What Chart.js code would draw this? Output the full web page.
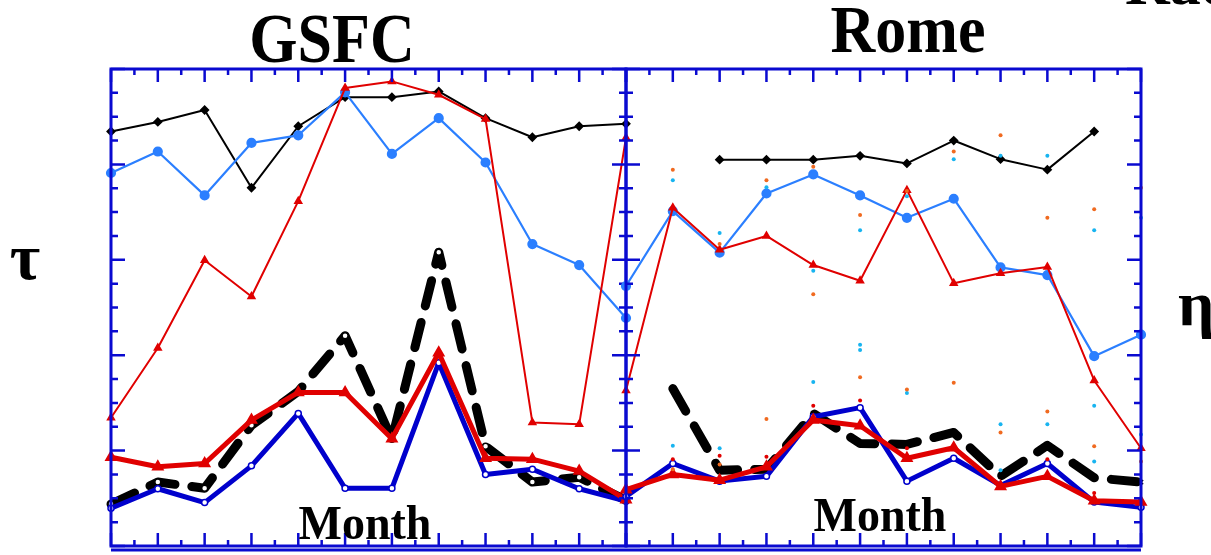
<!DOCTYPE html>
<html>
<head>
<meta charset="utf-8">
<script src="https://cdn.jsdelivr.net/npm/chart.js@4.4.1/dist/chart.umd.min.js"></script>
<style>
  html, body { margin: 0; padding: 0; background: #ffffff; overflow: hidden; }
  #wrap { position: relative; width: 1211px; height: 555px; }
  canvas { position: absolute; left: 0; top: 0; }
</style>
</head>
<body>
<div id="wrap">
  <canvas id="gsfc" width="1211" height="555"></canvas>
  <canvas id="rome" width="1211" height="555"></canvas>
</div>
<script>
// Month index on the x axis
const months = [1, 2, 3, 4, 5, 6, 7, 8, 9, 10, 11, 12];

// ---- GSFC panel (normalised tau) ----
const gsfcBlackThin = [0.869, 0.889, 0.914, 0.751, 0.880, 0.941, 0.941, 0.953, 0.897, 0.857, 0.880, 0.885];
const gsfcBlueThin  = [0.782, 0.827, 0.735, 0.845, 0.861, 0.951, 0.822, 0.897, 0.804, 0.633, 0.589, 0.478];
const gsfcRedThin   = [0.269, 0.415, 0.599, 0.523, 0.723, 0.960, 0.974, 0.946, 0.895, 0.259, 0.255, 0.856];
const gsfcDashed    = [0.088, 0.134, 0.121, 0.253, 0.324, 0.441, 0.224, 0.616, 0.209, 0.134, 0.144, 0.096];
const gsfcBlueThick = [0.079, 0.120, 0.091, 0.168, 0.278, 0.121, 0.121, 0.384, 0.150, 0.161, 0.120, 0.094];
const gsfcRedThick  = [0.186, 0.166, 0.173, 0.264, 0.322, 0.322, 0.225, 0.405, 0.184, 0.182, 0.157, 0.097];

// ---- Rome panel ----
const romeBlackThin = [null, null, 0.810, 0.810, 0.810, 0.818, 0.802, 0.850, 0.811, 0.789, 0.869, null];
const romeBlueThin  = [0.545, 0.702, 0.615, 0.739, 0.779, 0.735, 0.688, 0.728, 0.584, 0.568, 0.398, 0.443];
const romeRedThin   = [0.326, 0.709, 0.621, 0.650, 0.589, 0.556, 0.746, 0.551, 0.572, 0.585, 0.347, 0.205];
const romeDashed    = [null, 0.330, 0.159, 0.161, 0.278, 0.215, 0.213, 0.238, 0.146, 0.211, 0.143, 0.134];
const romeBlueThick = [0.104, 0.173, 0.136, 0.146, 0.271, 0.290, 0.136, 0.184, 0.127, 0.173, 0.092, 0.081];
const romeRedThick  = [0.118, 0.150, 0.138, 0.166, 0.264, 0.252, 0.184, 0.206, 0.125, 0.146, 0.095, 0.092];

// Individual station samples scattered around the Rome means: [month, value]
const romeOrangeDots = [
  [2, 0.789], [3, 0.633], [4, 0.767], [5, 0.795], [6, 0.694], [7, 0.744], [8, 0.827], [9, 0.861], [10, 0.688], [11, 0.706], [12, 0.751],
  [2, 0.161], [3, 0.171], [4, 0.266], [5, 0.528], [6, 0.354], [7, 0.328], [8, 0.342], [9, 0.238], [10, 0.282], [11, 0.209], [12, 0.177]
];
const romeCyanDots = [
  [2, 0.767], [3, 0.656], [4, 0.752], [5, 0.577], [6, 0.662], [7, 0.733], [8, 0.811], [9, 0.818], [10, 0.818], [11, 0.662], [12, 0.688],
  [2, 0.210], [3, 0.205], [5, 0.344], [6, 0.422], [6, 0.411], [7, 0.321], [9, 0.255], [9, 0.159], [10, 0.255], [11, 0.294], [11, 0.177], [12, 0.234]
];
const romeRedDots = [[2, 0.182], [3, 0.189], [4, 0.187], [5, 0.294], [6, 0.305], [7, 0.205], [10, 0.182], [11, 0.111]];

// y tick spacing
const yMinorStep = 0.05;
const yMajorEvery = 4;

const FRAME = '#0a0ad0';
const RED = '#e00000';
const LIGHTBLUE = '#2b7fff';
const DARKBLUE = '#0000cc';
const ORANGE = '#f06a20';
const CYAN = '#18b4f0';

function series(data, cfg) {
  return Object.assign({
    type: 'line',
    data: data,
    clip: false,
    tension: 0,
    spanGaps: false,
    borderCapStyle: 'round',
    borderJoinStyle: 'round'
  }, cfg);
}

function dots(pairs, color) {
  return {
    type: 'scatter',
    data: pairs.map(p => ({ x: p[0], y: p[1] })),
    showLine: false,
    pointRadius: 2,
    pointBorderWidth: 0,
    pointBackgroundColor: color,
    clip: false
  };
}

function panelDatasets(redThick, blueThick, dashed, redThin, blueThin, blackThin, dashMarker) {
  return [
    series(redThick, { borderColor: RED, borderWidth: 5, pointRadius: 2.5, pointStyle: 'triangle', pointBackgroundColor: RED, pointBorderColor: RED }),
    series(blueThick, { borderColor: DARKBLUE, borderWidth: 5, pointRadius: 3, pointStyle: 'circle', pointBackgroundColor: '#ffffff', pointBorderColor: DARKBLUE, pointBorderWidth: 1.5 }),
    series(dashed, { borderColor: '#000000', borderWidth: 9, borderDash: [26, 17], pointRadius: 3, pointStyle: dashMarker, pointBackgroundColor: '#ffffff', pointBorderColor: '#000000', pointBorderWidth: 1.5 }),
    series(redThin, { borderColor: RED, borderWidth: 2, pointRadius: 3.5, pointStyle: 'triangle', pointBackgroundColor: RED, pointBorderColor: RED }),
    series(blueThin, { borderColor: LIGHTBLUE, borderWidth: 2.2, pointRadius: 4, pointStyle: 'circle', pointBackgroundColor: LIGHTBLUE, pointBorderColor: LIGHTBLUE }),
    series(blackThin, { borderColor: '#000000', borderWidth: 2, pointRadius: 3.5, pointStyle: 'rectRot', pointBackgroundColor: '#000000', pointBorderColor: '#000000' })
  ];
}

// Frame with inward ticks, drawn from the chart's own scales
const framePlugin = {
  id: 'frame',
  afterDatasetsDraw(chart) {
    const ctx = chart.ctx;
    const a = chart.chartArea;
    const xs = chart.scales.x, ys = chart.scales.y;
    ctx.save();
    ctx.strokeStyle = FRAME;
    ctx.lineCap = 'butt';
    ctx.lineWidth = 2.5;
    // ticks along top and bottom
    for (let m = xs.min; m <= xs.max + 1e-9; m += 0.5) {
      const px = xs.getPixelForValue(m);
      const major = Math.abs(m - Math.round(m)) < 1e-6;
      const len = major ? 13 : 6;
      ctx.beginPath();
      ctx.moveTo(px, a.top); ctx.lineTo(px, a.top + len);
      ctx.moveTo(px, a.bottom); ctx.lineTo(px, a.bottom - len);
      ctx.stroke();
    }
    // ticks along left and right
    const n = Math.round((ys.max - ys.min) / yMinorStep);
    for (let i = 0; i <= n; i++) {
      const py = ys.getPixelForValue(ys.min + i * yMinorStep);
      const len = (i % yMajorEvery === 0) ? 14 : 7;
      ctx.beginPath();
      ctx.moveTo(a.left, py); ctx.lineTo(a.left + len, py);
      ctx.moveTo(a.right, py); ctx.lineTo(a.right - len, py);
      ctx.stroke();
    }
    ctx.lineWidth = 3;
    ctx.strokeRect(a.left, a.top, a.right - a.left, a.bottom - a.top);
    // top edge of the panel row beneath
    ctx.beginPath();
    ctx.moveTo(a.left, a.bottom + 4); ctx.lineTo(a.right, a.bottom + 4);
    ctx.stroke();
    ctx.restore();
  }
};

const textPlugin = {
  id: 'labels',
  afterDraw(chart, args, opts) {
    const ctx = chart.ctx;
    (opts.items || []).forEach(t => {
      ctx.save();
      ctx.fillStyle = '#000000';
      ctx.textBaseline = 'alphabetic';
      ctx.font = 'bold ' + t.size + 'px "Liberation Serif", "Times New Roman", serif';
      ctx.textAlign = t.align || 'center';
      ctx.translate(t.x, t.y);
      ctx.scale(1, t.sy || 1);
      ctx.fillText(t.text, 0, 0);
      ctx.restore();
    });
  }
};

function makeChart(id, padding, datasets, items) {
  return new Chart(document.getElementById(id), {
    data: { labels: months, datasets: datasets },
    options: {
      responsive: false,
      animation: false,
      devicePixelRatio: 1,
      layout: { padding: padding },
      plugins: { legend: { display: false }, tooltip: { enabled: false }, labels: { items: items } },
      scales: {
        x: { type: 'linear', min: 1, max: 12, display: false },
        y: { type: 'linear', min: 0, max: 1, display: false }
      }
    },
    plugins: [framePlugin, textPlugin]
  });
}

makeChart('gsfc', { left: 111, right: 585, top: 69, bottom: 7 },
  panelDatasets(gsfcRedThick, gsfcBlueThick, gsfcDashed, gsfcRedThin, gsfcBlueThin, gsfcBlackThin, 'circle'),
  [
    { text: 'GSFC', x: 332, y: 62, size: 62, sy: 1.13 },
    { text: 'Month', x: 365, y: 539, size: 46, sy: 1.05 },
    { text: 'τ', x: 25, y: 279, size: 66 }
  ]);

makeChart('rome', { left: 626, right: 70, top: 69, bottom: 7 },
  [dots(romeRedDots, RED), dots(romeOrangeDots, ORANGE), dots(romeCyanDots, CYAN)].concat(
    panelDatasets(romeRedThick, romeBlueThick, romeDashed, romeRedThin, romeBlueThin, romeBlackThin, 'crossRot')),
  [
    { text: 'Rome', x: 908, y: 52, size: 62, sy: 1.1 },
    { text: 'Month', x: 880, y: 531, size: 46, sy: 1.05 },
    { text: 'η', x: 1178, y: 325, size: 64, align: 'left' },
    { text: 'Radii', x: 1125, y: 4, size: 62, align: 'left' }
  ]);
</script>
</body>
</html>
